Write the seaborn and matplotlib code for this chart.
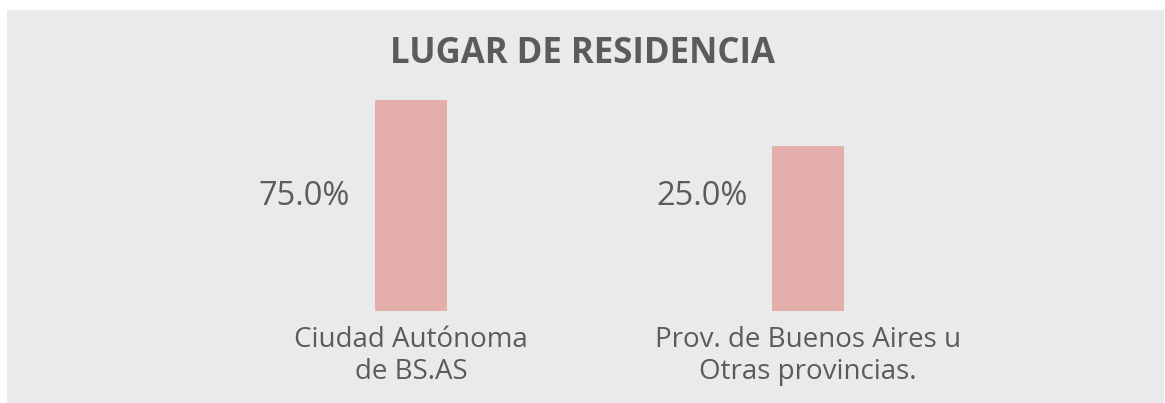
import matplotlib
matplotlib.use('Agg')
import matplotlib.pyplot as plt
import seaborn as sns
import pandas as pd
from matplotlib.patches import Rectangle

# Datos
categorias = ["Ciudad Autónoma\nde BS.AS", "Prov. de Buenos Aires u\nOtras provincias."]
porcentajes = [75.0, 25.0]
etiquetas = ["75.0%", "25.0%"]
titulo = "LUGAR DE RESIDENCIA"

FONDO = "#e9eaea"
BARRA = "#e4aeab"
TEXTO = "#5a5c5c"

sns.set_theme(style="white")
plt.rcParams['font.family'] = ['Open Sans', 'DejaVu Sans']

df = pd.DataFrame({"categoria": categorias, "pct": porcentajes})

W, H = 1165, 403
fig = plt.figure(figsize=(W / 100, H / 100), dpi=100)
fig.patch.set_facecolor("white")
fig.patches.append(Rectangle((7 / W, 0), (1164 - 7) / W, (H - 10) / H,
                             transform=fig.transFigure, facecolor=FONDO,
                             edgecolor="none", zorder=-10))

# ejes: x centrado en las barras, y en escala log (eje que no arranca en cero)
ax = fig.add_axes([212.5 / W, 92 / H, 794 / W, 221 / H])
ax.set_facecolor("none")
ax.set_zorder(5)
sns.barplot(data=df, x="categoria", y="pct", color=BARRA, width=0.18,
            saturation=1, linewidth=0, ax=ax)
ax.set_yscale("log")
ax.set_ylim(0.486, 95.2)
ax.set_xlim(-0.5, 1.5)

for i, lab in enumerate(etiquetas):
    ax.annotate(lab, xy=(i - 0.09, 0.52), xycoords=("data", "axes fraction"),
                xytext=(-25, 0), textcoords="offset pixels",
                ha="right", va="center", fontsize=23.5, color=TEXTO)

ax.set_xlabel("")
ax.set_ylabel("")
ax.set_yticks([])
ax.minorticks_off()
ax.tick_params(axis="x", length=0, pad=11, labelsize=20, labelcolor=TEXTO)
for t in ax.get_xticklabels():
    t.set_linespacing(1.2)
for s in ax.spines.values():
    s.set_visible(False)

fig.text(582.5 / W, 1 - 63 / H, titulo, ha="center", va="baseline",
         fontsize=25, fontweight="bold", color=TEXTO, zorder=5)

fig.savefig("out.png", dpi=100, facecolor="white")
